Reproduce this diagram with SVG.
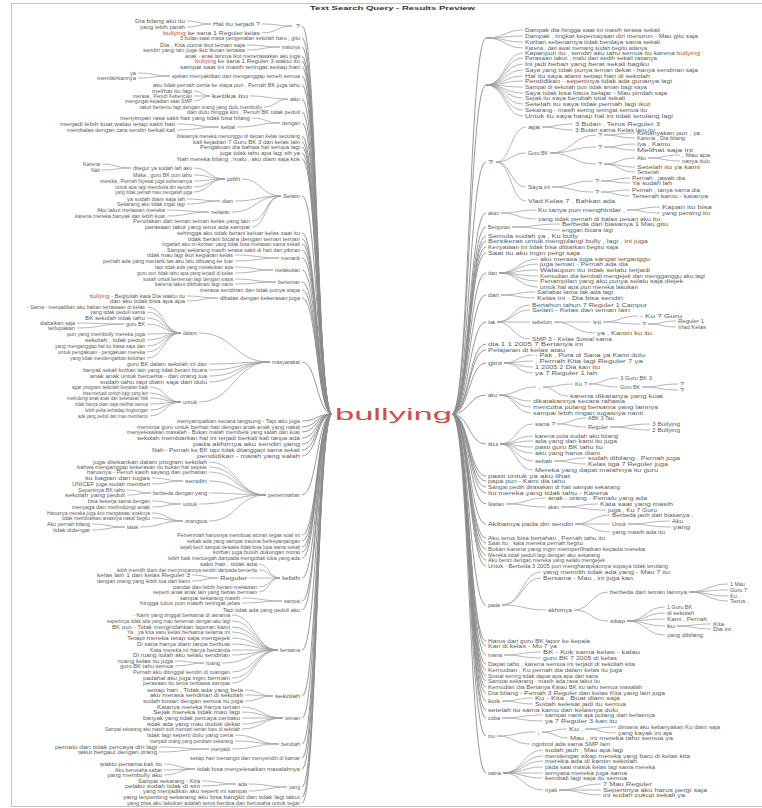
<svg xmlns="http://www.w3.org/2000/svg" width="762" height="808" viewBox="0 0 762 808">
<style>
text{font-family:"Liberation Sans",Arial,sans-serif;font-size:5.5px;fill:#5c5c5c}
.L text{text-anchor:end}
.r{fill:#e0403c}
#connectors path{fill:none;stroke:#9c9c9c;stroke-width:.75}
#connectors path.trunk{stroke:#8c8c8c;stroke-width:.9}
</style>
<rect x="11.5" y="3.5" width="760" height="803" fill="#fff" stroke="#c4c4c4"/>
<g id="title"><text x="310" y="10" textLength="165" lengthAdjust="spacingAndGlyphs" style="font-size:6px;font-weight:bold;fill:#333">Text Search Query - Results Preview</text></g>
<g id="connectors">
<path class="trunk" d="M302 26C317 26 317 414 332 414M302 38C317 38 317 414 332 414M302 47C317 47 317 414 332 414M302 56C317 56 317 414 332 414M302 61C317 61 317 414 332 414M302 67C317 67 317 414 332 414M302 76C317 76 317 414 332 414M302 85C317 85 317 414 332 414M302 99C317 99 317 414 332 414M302 112C317 112 317 414 332 414M302 123C317 123 317 414 332 414M302 136C317 136 317 414 332 414M302 142C317 142 317 414 332 414M302 147C317 147 317 414 332 414M302 153C317 153 317 414 332 414M302 159C317 159 317 414 332 414M302 196C317 196 317 414 332 414M302 233C317 233 317 414 332 414M302 239C317 239 317 414 332 414M302 244C317 244 317 414 332 414M302 250C317 250 317 414 332 414M302 258C317 258 317 414 332 414M302 270C317 270 317 414 332 414M302 282C317 282 317 414 332 414M302 290C317 290 317 414 332 414M302 298C317 298 317 414 332 414M302 362C317 362 317 414 332 414M302 421C317 421 317 414 332 414M302 427C317 427 317 414 332 414M302 432C317 432 317 414 332 414M302 438C317 438 317 414 332 414M302 444C317 444 317 414 332 414M302 450C317 450 317 414 332 414M302 456C317 456 317 414 332 414M302 495C317 495 317 414 332 414M302 535C317 535 317 414 332 414M302 541C317 541 317 414 332 414M302 547C317 547 317 414 332 414M302 552C317 552 317 414 332 414M302 558C317 558 317 414 332 414M302 578C317 578 317 414 332 414M302 601C317 601 317 414 332 414M302 610C317 610 317 414 332 414M302 650C317 650 317 414 332 414M302 696C317 696 317 414 332 414M302 718C317 718 317 414 332 414M302 744C317 744 317 414 332 414M302 758C317 758 317 414 332 414M302 769C317 769 317 414 332 414M302 787C317 787 317 414 332 414M302 797C317 797 317 414 332 414M302 803C317 803 317 414 332 414"/>
<path d="M187 21C199 21 199 24 211 24M187 27C199 27 199 24 211 24M262 24C277 24 277 26 292 26M262 33C277 33 277 26 292 26M247 45C263 45 263 47 280 47M247 50C263 50 263 47 280 47M138 73C154 73 154 76 170 76M138 78C154 78 154 76 170 76M194 91C202 91 202 96 210 96M194 96H210M194 101C202 101 202 96 210 96M250 96C269 96 269 99 288 99M264 107C276 107 276 99 288 99M252 118C266 118 266 123 280 123M237 127C258 127 258 123 280 123M177 124C198 124 198 127 219 127M177 130C198 130 198 127 219 127"/>
<path d="M102 164C116 164 116 168 131 168M102 170C116 170 116 168 131 168M194 168C209 168 209 179 225 179M194 175C209 175 209 179 225 179M194 181C209 181 209 179 225 179M194 187C209 187 209 179 225 179M194 192C209 192 209 179 225 179M242 179C261 179 261 196 281 196M187 199C203 199 203 201 220 201M187 204C203 204 203 201 220 201M235 201C258 201 258 196 281 196M167 210C188 210 188 212 209 212M167 216C188 216 188 212 209 212M232 212C256 212 256 196 281 196M252 221C266 221 266 196 281 196M252 227C266 227 266 196 281 196M235 255C257 255 257 258 279 258M235 261C257 261 257 258 279 258M235 267C254 267 254 270 273 270M235 273C254 273 254 270 273 270M235 279C255 279 255 282 276 282M235 284C255 284 255 282 276 282M187 296C202 296 202 298 218 298M187 301C202 301 202 298 218 298"/>
<path d="M147 307C164 307 164 333 181 333M147 312C164 312 164 333 181 333M147 318C164 318 164 333 181 333M147 324C164 324 164 333 181 333M147 334C164 334 164 333 181 333M147 340C164 340 164 333 181 333M147 346C164 346 164 333 181 333M147 352C164 352 164 333 181 333M147 358C164 358 164 333 181 333M77 323C100 323 100 324 124 324M77 328C100 328 100 324 124 324M199 333C234 333 234 362 270 362M209 364C239 364 239 362 270 362M209 370C239 370 239 362 270 362M209 376C239 376 239 362 270 362M209 382C239 382 239 362 270 362M150 387C165 387 165 402 181 402M150 393C165 393 165 402 181 402M150 398C165 398 165 402 181 402M150 404C165 404 165 402 181 402M150 410C165 410 165 402 181 402M150 416C165 416 165 402 181 402M199 402C234 402 234 362 270 362"/>
<path d="M209 462C237 462 237 495 266 495M209 467C237 467 237 495 266 495M209 472C237 472 237 495 266 495M152 478C167 478 167 481 183 481M152 484C167 484 167 481 183 481M209 481C237 481 237 495 266 495M127 490C139 490 139 493 151 493M127 495C139 495 139 493 151 493M209 493C237 493 237 495 266 495M152 501C166 501 166 504 181 504M152 507C166 507 166 504 181 504M199 504C232 504 232 495 266 495M152 513C167 513 167 521 183 521M152 518C167 518 167 521 183 521M92 524C108 524 108 527 125 527M92 530C108 530 108 527 125 527M140 527C161 527 161 521 183 521M209 521C237 521 237 495 266 495M259 564C269 564 269 578 280 578M259 570C269 570 269 578 280 578M192 575C205 575 205 578 218 578M192 581C205 581 205 578 218 578M249 578H280M259 587C269 587 269 578 280 578M259 592C269 592 269 578 280 578M242 598C262 598 262 601 282 601M242 603C262 603 262 601 282 601"/>
<path d="M232 615C255 615 255 650 278 650M232 621C255 621 255 650 278 650M232 627C255 627 255 650 278 650M232 632C255 632 255 650 278 650M232 638C255 638 255 650 278 650M232 644C255 644 255 650 278 650M232 650H278M232 655C255 655 255 650 278 650M232 672C255 672 255 650 278 650M232 678C255 678 255 650 278 650M232 683C255 683 255 650 278 650M175 661C190 661 190 663 204 663M175 666C190 666 190 663 204 663M222 663C250 663 250 650 278 650M245 690C259 690 259 696 273 696M245 695C259 695 259 696 273 696M245 701C259 701 259 696 273 696M242 707C262 707 262 718 283 718M242 712C262 712 262 718 283 718M242 718H283M242 724C262 724 262 718 283 718M242 729C262 729 262 718 283 718M235 735C257 735 257 744 279 744M235 741C257 741 257 744 279 744M159 747C184 747 184 749 209 749M159 752C184 752 184 749 209 749M232 749C255 749 255 744 279 744M164 764C179 764 179 769 195 769M164 770C179 770 179 769 195 769M164 775C179 775 179 769 195 769M202 781C219 781 219 784 236 784M202 786C219 786 219 784 236 784M249 784C268 784 268 787 287 787M249 791C268 791 268 787 287 787"/>
<path class="trunk" d="M452 414C469 414 469 38 486 38M452 414C469 414 469 85 486 85M452 414C469 414 469 162 486 162M452 414C469 414 469 213 486 213M452 414C469 414 469 227 486 227M452 414C469 414 469 236 486 236M452 414C469 414 469 241 486 241M452 414C469 414 469 247 486 247M452 414C469 414 469 253 486 253M452 414C469 414 469 273 486 273M452 414C469 414 469 295 486 295M452 414C469 414 469 322 486 322M452 414C469 414 469 344 486 344M452 414C469 414 469 350 486 350M452 414C469 414 469 363 486 363M452 414C469 414 469 395 486 395M452 414C469 414 469 444 486 444M452 414C469 414 469 476 486 476M452 414C469 414 469 481 486 481M452 414C469 414 469 487 486 487M452 414C469 414 469 493 486 493M452 414C469 414 469 504 486 504M452 414C469 414 469 524 486 524M452 414C469 414 469 538 486 538M452 414C469 414 469 543 486 543M452 414C469 414 469 549 486 549M452 414C469 414 469 555 486 555M452 414C469 414 469 560 486 560M452 414C469 414 469 566 486 566M452 414C469 414 469 605 486 605M452 414C469 414 469 641 486 641M452 414C469 414 469 646 486 646M452 414C469 414 469 655 486 655M452 414C469 414 469 664 486 664M452 414C469 414 469 670 486 670M452 414C469 414 469 676 486 676M452 414C469 414 469 681 486 681M452 414C469 414 469 687 486 687M452 414C469 414 469 693 486 693M452 414C469 414 469 701 486 701M452 414C469 414 469 710 486 710M452 414C469 414 469 718 486 718M452 414C469 414 469 736 486 736M452 414C469 414 469 773 486 773"/>
<path d="M486 38C505 38 505 30 523 30M486 38C505 38 505 36 523 36M486 38C505 38 505 42 523 42M486 38C505 38 505 48 523 48M486 85C505 85 505 53 523 53M486 85C505 85 505 58 523 58M486 85C505 85 505 64 523 64M486 85C505 85 505 70 523 70M486 85C505 85 505 76 523 76M486 85C505 85 505 81 523 81M486 85C505 85 505 87 523 87M486 85C505 85 505 93 523 93M486 85C505 85 505 98 523 98M486 85C505 85 505 104 523 104M486 85C505 85 505 110 523 110M486 85C505 85 505 116 523 116"/>
<path d="M496 162C511 162 511 127 526 127M496 162C511 162 511 153 526 153M496 162C511 162 511 187 526 187M496 162C511 162 511 201 526 201M542 127C557 127 557 124 573 124M542 127C557 127 557 130 573 130M550 153C573 153 573 135 596 135M550 153C573 153 573 147 596 147M550 153C573 153 573 164 596 164M604 135C619 135 619 133 635 133M604 135C619 135 619 138 635 138M604 147C619 147 619 144 635 144M604 147C619 147 619 150 635 150M604 164C619 164 619 158 635 158M604 164C619 164 619 167 635 167M604 164C619 164 619 172 635 172M648 158C664 158 664 155 680 155M648 158C664 158 664 161 680 161M552 187C572 187 572 181 593 181M552 187C572 187 572 192 593 192M601 181C615 181 615 178 630 178M601 181C615 181 615 183 630 183M601 192C615 192 615 190 630 190M601 192C615 192 615 196 630 196M501 213C518 213 518 210 536 210M501 213C518 213 518 219 536 219M627 210C643 210 643 207 660 207M627 210C643 210 643 213 660 213M512 227C536 227 536 224 560 224M512 227C536 227 536 230 560 230"/>
<path d="M499 273C518 273 518 259 538 259M499 273C518 273 518 264 538 264M499 273C518 273 518 270 538 270M499 273C518 273 518 276 538 276M499 273C518 273 518 281 538 281M499 273C518 273 518 287 538 287M501 295C518 295 518 292 535 292M501 295C518 295 518 298 535 298M497 322C513 322 513 305 530 305M497 322C513 322 513 310 530 310M497 322H530M497 322C513 322 513 339 530 339M554 322H591M554 322C574 322 574 333 595 333M603 322C620 322 620 316 638 316M603 322C621 322 621 324 640 324M648 324C662 324 662 321 676 321M648 324C662 324 662 327 676 327M504 363C518 363 518 355 533 355M504 363C518 363 518 361 533 361M504 363C518 363 518 367 533 367M504 363C518 363 518 373 533 373M499 395C517 395 517 387 536 387M499 395C515 395 515 401 531 401M499 395C515 395 515 407 531 407M499 395C515 395 515 413 531 413M543 387C558 387 558 384 573 384M543 387C555 387 555 396 568 396M589 384C603 384 603 378 618 378M589 384C603 384 603 387 618 387M642 387C660 387 660 384 678 384M642 387C660 387 660 390 678 390"/>
<path d="M500 444C516 444 516 424 533 424M500 444C516 444 516 436 533 436M500 444C516 444 516 441 533 441M500 444C516 444 516 447 533 447M500 444C516 444 516 453 533 453M500 444C516 444 516 461 533 461M500 444C516 444 516 470 533 470M557 424C571 424 571 418 586 418M557 424C571 424 571 427 586 427M610 427C630 427 630 424 650 424M610 427C630 427 630 430 650 430M554 461C570 461 570 458 586 458M554 461C570 461 570 464 586 464M506 504C526 504 526 498 546 498M506 504C526 504 526 507 546 507M561 507C580 507 580 504 598 504M561 507C584 507 584 510 606 510M575 524C592 524 592 515 610 515M575 524H610M575 524C592 524 592 532 610 532M628 524C649 524 649 521 670 521M628 524C649 524 649 527 671 527"/>
<path d="M502 605C522 605 522 572 541 572M502 605C522 605 522 578 541 578M502 605C524 605 524 610 546 610M574 610C591 610 591 592 608 592M574 610C591 610 591 621 608 621M689 592C708 592 708 584 728 584M689 592C708 592 708 590 728 590M689 592C708 592 708 596 728 596M689 592C708 592 708 601 728 601M627 621C646 621 646 607 665 607M627 621C646 621 646 613 665 613M627 621C646 621 646 619 665 619M627 621C646 621 646 626 665 626M627 621C646 621 646 635 665 635M677 626C694 626 694 624 711 624M677 626C694 626 694 629 711 629M504 655C522 655 522 652 541 652M504 655C522 655 522 658 541 658M502 701C518 701 518 698 533 698M502 701C518 701 518 704 533 704M502 718C522 718 522 715 543 715M502 718C522 718 522 721 543 721M497 736C516 736 516 732 535 732M497 736C514 736 514 744 530 744M542 732C554 732 554 729 567 729M542 732C555 732 555 738 568 738M585 729C600 729 600 727 616 727M585 729C600 729 600 733 616 733M503 773C523 773 523 750 543 750M503 773C523 773 523 756 543 756M503 773C523 773 523 761 543 761M503 773C523 773 523 767 543 767M503 773H543M503 773C523 773 523 778 543 778M503 773C523 773 523 790 543 790M559 790C580 790 580 784 601 784M559 790H601M559 790C580 790 580 795 601 795"/>
</g>
<g id="root"><text x="335" y="420" textLength="117" lengthAdjust="spacingAndGlyphs" style="font-size:16px;fill:#d9484a">bullying</text></g>
<g class="L" id="left">
<g id="L01"><text x="300" y="28" textLength="4" lengthAdjust="spacingAndGlyphs">?</text><text x="260" y="26" textLength="47" lengthAdjust="spacingAndGlyphs">Hal itu terjadi ?</text><text x="185" y="23" textLength="50" lengthAdjust="spacingAndGlyphs">Dia bilang aku itu</text><text x="185" y="29" textLength="45" lengthAdjust="spacingAndGlyphs">yang lebih parah</text><text x="260" y="35" textLength="97" lengthAdjust="spacingAndGlyphs"><tspan class="r">bullying</tspan> ke sana 1 Reguler kelas</text></g>
<g id="L02"><text x="300" y="40" textLength="120" lengthAdjust="spacingAndGlyphs">3 bulan saat masa pengenalan sekolah baru , gitu</text></g>
<g id="L03"><text x="300" y="49" textLength="18" lengthAdjust="spacingAndGlyphs">malunya</text><text x="245" y="47" textLength="85" lengthAdjust="spacingAndGlyphs">Dia , Kita cuma ikut teman saja</text><text x="245" y="52" textLength="102" lengthAdjust="spacingAndGlyphs">sendiri yang lain juga ikut ikutan tertawa</text></g>
<g id="L04"><text x="300" y="58" textLength="115" lengthAdjust="spacingAndGlyphs">anak - anak lainnya ikut menertawakan aku juga</text></g>
<g id="L05"><text x="300" y="63" textLength="105" lengthAdjust="spacingAndGlyphs"><tspan class="r">bullying</tspan> ke sana 1 Reguler 3 waktu itu</text></g>
<g id="L06"><text x="300" y="69" textLength="120" lengthAdjust="spacingAndGlyphs">sampai saat ini masih teringat setiap hari</text></g>
<g id="L07"><text x="300" y="78" textLength="128" lengthAdjust="spacingAndGlyphs">ejekan menyakitkan dan menganggap remeh semua</text><text x="136" y="75" textLength="6" lengthAdjust="spacingAndGlyphs">ya</text><text x="136" y="80" textLength="39" lengthAdjust="spacingAndGlyphs">memikirkannya</text></g>
<g id="L08"><text x="300" y="87" textLength="147" lengthAdjust="spacingAndGlyphs">aku tidak pernah cerita ke siapa pun , Pernah BK juga tahu</text></g>
<g id="L09"><text x="300" y="101" textLength="10" lengthAdjust="spacingAndGlyphs">aku</text><text x="248" y="98" textLength="36" lengthAdjust="spacingAndGlyphs">ketika itu</text><text x="192" y="93" textLength="40" lengthAdjust="spacingAndGlyphs">melihat itu lagi</text><text x="192" y="98" textLength="59" lengthAdjust="spacingAndGlyphs">merasa , Penuh Kebencian</text><text x="192" y="103" textLength="67" lengthAdjust="spacingAndGlyphs">mengingat kejadian saat SMP</text><text x="262" y="109" textLength="122" lengthAdjust="spacingAndGlyphs">takut bertemu lagi dengan orang yang dulu membully</text></g>
<g id="L10"><text x="300" y="114" textLength="113" lengthAdjust="spacingAndGlyphs">dari dulu hingga kini , Penuh BK tidak peduli</text></g>
<g id="L11"><text x="300" y="125" textLength="18" lengthAdjust="spacingAndGlyphs">dengan</text><text x="250" y="120" textLength="130" lengthAdjust="spacingAndGlyphs">menyimpan rasa sakit hati yang tidak bisa hilang</text><text x="235" y="129" textLength="14" lengthAdjust="spacingAndGlyphs">kebal</text><text x="175" y="126" textLength="115" lengthAdjust="spacingAndGlyphs">menjadi lebih kuat walau tetap sakit hati</text><text x="175" y="132" textLength="108" lengthAdjust="spacingAndGlyphs">membalas dengan cara sendiri berkali kali</text></g>
<g id="L12"><text x="300" y="138" textLength="123" lengthAdjust="spacingAndGlyphs">biasanya mereka menunggu di depan kelas sepulang</text><text x="300" y="144" textLength="107" lengthAdjust="spacingAndGlyphs">kali kejadian 7 Guru BK 3 dan kelas lain</text><text x="300" y="149" textLength="100" lengthAdjust="spacingAndGlyphs">Pengakuan dia bahwa hal serupa lagi</text><text x="300" y="155" textLength="80" lengthAdjust="spacingAndGlyphs">juga tidak tahu apa lagi sih ya</text><text x="300" y="161" textLength="123" lengthAdjust="spacingAndGlyphs">Nah mereka bilang , malu , aku diam saja kok</text></g>
<g id="L17"><text x="300" y="198" textLength="17" lengthAdjust="spacingAndGlyphs">Selain</text><text x="240" y="181" textLength="13" lengthAdjust="spacingAndGlyphs">pilih</text><text x="192" y="170" textLength="59" lengthAdjust="spacingAndGlyphs">ditegur ya sudah lah aku</text><text x="100" y="166" textLength="17" lengthAdjust="spacingAndGlyphs">Karena</text><text x="100" y="172" textLength="9" lengthAdjust="spacingAndGlyphs">Nah</text><text x="192" y="177" textLength="59" lengthAdjust="spacingAndGlyphs">Maka , guru BK pun tahu</text><text x="192" y="183" textLength="92" lengthAdjust="spacingAndGlyphs">mereka , Pernah Nyesal juga sebenarnya</text><text x="192" y="189" textLength="77" lengthAdjust="spacingAndGlyphs">untuk apa lagi membela diri sendiri</text><text x="192" y="194" textLength="77" lengthAdjust="spacingAndGlyphs">yang tidak pernah mau mengalah juga</text><text x="233" y="203" textLength="11" lengthAdjust="spacingAndGlyphs">diam</text><text x="185" y="201" textLength="58" lengthAdjust="spacingAndGlyphs">ya sudah diam saja lah</text><text x="185" y="206" textLength="68" lengthAdjust="spacingAndGlyphs">Sekarang aku tidak ingat lagi</text><text x="230" y="214" textLength="19" lengthAdjust="spacingAndGlyphs">melawan</text><text x="165" y="212" textLength="68" lengthAdjust="spacingAndGlyphs">Aku takut melawan mereka</text><text x="165" y="218" textLength="90" lengthAdjust="spacingAndGlyphs">karena mereka banyak dan lebih kuat</text><text x="250" y="223" textLength="117" lengthAdjust="spacingAndGlyphs">Penolakan dari teman teman kelas yang lain</text><text x="250" y="229" textLength="105" lengthAdjust="spacingAndGlyphs">perasaan takut yang terus ada sampai</text></g>
<g id="L18"><text x="300" y="235" textLength="123" lengthAdjust="spacingAndGlyphs">sehingga aku tidak berani keluar kelas saat itu</text><text x="300" y="241" textLength="112" lengthAdjust="spacingAndGlyphs">tidak berani bicara dengan teman teman</text><text x="300" y="246" textLength="138" lengthAdjust="spacingAndGlyphs">Ingatlah aku ini korban yang tidak bisa melawan sama sekali</text><text x="300" y="252" textLength="133" lengthAdjust="spacingAndGlyphs">Sampai sekarang masih terasa sakit di hati dan pikiran</text></g>
<g id="L22"><text x="300" y="260" textLength="19" lengthAdjust="spacingAndGlyphs">menarik</text><text x="233" y="257" textLength="86" lengthAdjust="spacingAndGlyphs">tidak mau lagi ikut kegiatan kelas</text><text x="233" y="263" textLength="130" lengthAdjust="spacingAndGlyphs">pernah ada yang menarik tas aku lalu dibuang ke luar</text></g>
<g id="L23"><text x="300" y="272" textLength="25" lengthAdjust="spacingAndGlyphs">melakukan</text><text x="233" y="269" textLength="78" lengthAdjust="spacingAndGlyphs">tapi tidak ada yang melakukan apa</text><text x="233" y="275" textLength="96" lengthAdjust="spacingAndGlyphs">guru pun tidak tahu apa yang terjadi di kelas</text></g>
<g id="L24"><text x="300" y="284" textLength="22" lengthAdjust="spacingAndGlyphs">berteman</text><text x="233" y="281" textLength="90" lengthAdjust="spacingAndGlyphs">susah untuk berteman lagi dengan siapa</text><text x="233" y="286" textLength="78" lengthAdjust="spacingAndGlyphs">karena takut dikhianati lagi nanti</text><text x="300" y="292" textLength="100" lengthAdjust="spacingAndGlyphs">merasa sendirian dan tidak punya siapa</text></g>
<g id="L26"><text x="300" y="300" textLength="80" lengthAdjust="spacingAndGlyphs">dibalas dengan kekerasan juga</text><text x="185" y="298" textLength="95" lengthAdjust="spacingAndGlyphs"><tspan class="r">bullying</tspan> - Begitulah kata Dia waktu itu</text><text x="185" y="303" textLength="75" lengthAdjust="spacingAndGlyphs">dan aku tidak bisa apa apa</text></g>
<g id="L27"><text x="300" y="364" textLength="28" lengthAdjust="spacingAndGlyphs">masyarakat</text><text x="197" y="335" textLength="14" lengthAdjust="spacingAndGlyphs">dalam</text><text x="145" y="309" textLength="118" lengthAdjust="spacingAndGlyphs">- Sama - menjadikan aku bahan tertawaan di kelas</text><text x="145" y="314" textLength="55" lengthAdjust="spacingAndGlyphs">yang tidak peduli sama</text><text x="145" y="320" textLength="60" lengthAdjust="spacingAndGlyphs">BK sekolah tidak tahu</text><text x="145" y="326" textLength="19" lengthAdjust="spacingAndGlyphs">guru BK</text><text x="75" y="325" textLength="35" lengthAdjust="spacingAndGlyphs">diabaikan saja</text><text x="75" y="330" textLength="27" lengthAdjust="spacingAndGlyphs">terlupakan</text><text x="145" y="336" textLength="78" lengthAdjust="spacingAndGlyphs">pun yang membully mereka juga</text><text x="145" y="342" textLength="60" lengthAdjust="spacingAndGlyphs">sekolah , tidak peduli</text><text x="145" y="348" textLength="90" lengthAdjust="spacingAndGlyphs">yang menganggap hal itu biasa saja dan</text><text x="145" y="354" textLength="87" lengthAdjust="spacingAndGlyphs">untuk pengakuan - pengakuan mereka</text><text x="145" y="360" textLength="75" lengthAdjust="spacingAndGlyphs">yang tidak mendengarkan keluhan</text><text x="207" y="366" textLength="80" lengthAdjust="spacingAndGlyphs">guru BK dalam sekolah ini dan</text><text x="207" y="372" textLength="124" lengthAdjust="spacingAndGlyphs">banyak sekali korban lain yang tidak berani bicara</text><text x="207" y="378" textLength="117" lengthAdjust="spacingAndGlyphs">anak anak untuk bercerita - dan orang tua</text><text x="207" y="384" textLength="107" lengthAdjust="spacingAndGlyphs">sudah tahu tapi diam saja dari dulu</text><text x="197" y="404" textLength="14" lengthAdjust="spacingAndGlyphs">untuk</text><text x="148" y="389" textLength="76" lengthAdjust="spacingAndGlyphs">agar program sekolah berjalan baik</text><text x="148" y="395" textLength="65" lengthAdjust="spacingAndGlyphs">bisa menjadi contoh bagi yang lain</text><text x="148" y="400" textLength="81" lengthAdjust="spacingAndGlyphs">melindungi anak anak dari kekerasan fisik</text><text x="148" y="406" textLength="73" lengthAdjust="spacingAndGlyphs">tidak hanya diam saja melihat semua</text><text x="148" y="412" textLength="63" lengthAdjust="spacingAndGlyphs">lebih peka terhadap lingkungan</text><text x="148" y="418" textLength="70" lengthAdjust="spacingAndGlyphs">ada yang peduli dan mau membantu</text></g>
<g id="L28"><text x="300" y="423" textLength="123" lengthAdjust="spacingAndGlyphs">menyampaikan secara langsung - Tapi aku juga</text><text x="300" y="429" textLength="163" lengthAdjust="spacingAndGlyphs">meminta guru untuk berhati hati dengan anak anak yang nakal</text><text x="300" y="434" textLength="173" lengthAdjust="spacingAndGlyphs">menyelesaikan masalah - Bukan malah membela yang salah dan kuat</text><text x="300" y="440" textLength="163" lengthAdjust="spacingAndGlyphs">sekolah membiarkan hal ini terjadi berkali kali tanpa ada</text><text x="300" y="446" textLength="107" lengthAdjust="spacingAndGlyphs">pada akhirnya aku sendiri yang</text><text x="300" y="452" textLength="148" lengthAdjust="spacingAndGlyphs">Nah - Pernah ke BK tapi tidak ditanggapi sama sekali</text><text x="300" y="458" textLength="103" lengthAdjust="spacingAndGlyphs">pendidikan - malah yang salah</text></g>
<g id="L35"><text x="300" y="497" textLength="32" lengthAdjust="spacingAndGlyphs">pemerintahan</text><text x="207" y="464" textLength="114" lengthAdjust="spacingAndGlyphs">juga ditekankan dalam program sekolah</text><text x="207" y="469" textLength="130" lengthAdjust="spacingAndGlyphs">bahwa menganggap kekerasan itu bukan hal sepele</text><text x="207" y="474" textLength="120" lengthAdjust="spacingAndGlyphs">harusnya - Penuh kasih sayang dan perhatian</text><text x="207" y="483" textLength="22" lengthAdjust="spacingAndGlyphs">sendiri</text><text x="150" y="480" textLength="65" lengthAdjust="spacingAndGlyphs">itu bagian dari tugas</text><text x="150" y="486" textLength="78" lengthAdjust="spacingAndGlyphs">UNICEF juga sudah memberi</text><text x="207" y="495" textLength="54" lengthAdjust="spacingAndGlyphs">berbeda dengan yang</text><text x="125" y="492" textLength="47" lengthAdjust="spacingAndGlyphs">Sepertinya BK tahu</text><text x="125" y="497" textLength="60" lengthAdjust="spacingAndGlyphs">sekolah yang peduli</text><text x="197" y="506" textLength="14" lengthAdjust="spacingAndGlyphs">untuk</text><text x="150" y="503" textLength="62" lengthAdjust="spacingAndGlyphs">bisa bekerja sama dengan</text><text x="150" y="509" textLength="78" lengthAdjust="spacingAndGlyphs">menjaga dan melindungi anak</text><text x="207" y="523" textLength="22" lengthAdjust="spacingAndGlyphs">orangtua</text><text x="150" y="515" textLength="103" lengthAdjust="spacingAndGlyphs">Harusnya mereka juga ikut mengawasi anaknya</text><text x="150" y="520" textLength="88" lengthAdjust="spacingAndGlyphs">tidak membiarkan anaknya nakal begitu</text><text x="138" y="529" textLength="11" lengthAdjust="spacingAndGlyphs">kakak</text><text x="90" y="526" textLength="43" lengthAdjust="spacingAndGlyphs">Aku pernah bilang</text><text x="90" y="532" textLength="37" lengthAdjust="spacingAndGlyphs">tidak didengar</text></g>
<g id="L36"><text x="300" y="537" textLength="123" lengthAdjust="spacingAndGlyphs">Pemerintah harusnya membuat aturan tegas soal ini</text><text x="300" y="543" textLength="113" lengthAdjust="spacingAndGlyphs">sebab ada yang sampai trauma berkepanjangan</text><text x="300" y="549" textLength="120" lengthAdjust="spacingAndGlyphs">sejak kecil sampai dewasa tidak bisa lupa sama sekali</text><text x="300" y="554" textLength="87" lengthAdjust="spacingAndGlyphs">korban juga butuh dukungan moral</text><text x="300" y="560" textLength="132" lengthAdjust="spacingAndGlyphs">lebih baik mencegah daripada mengobati luka yang ada</text></g>
<g id="L41"><text x="300" y="580" textLength="18" lengthAdjust="spacingAndGlyphs">lebih</text><text x="257" y="566" textLength="57" lengthAdjust="spacingAndGlyphs">sakit hati , tidak ada</text><text x="257" y="572" textLength="140" lengthAdjust="spacingAndGlyphs">lebih memilih diam dan menyimpannya sendiri daripada bercerita</text><text x="247" y="580" textLength="27" lengthAdjust="spacingAndGlyphs">Reguler</text><text x="190" y="577" textLength="93" lengthAdjust="spacingAndGlyphs">kelas lain 1 dan kelas Reguler 3</text><text x="190" y="583" textLength="93" lengthAdjust="spacingAndGlyphs">dengan orang yang lebih tua dari kami</text><text x="257" y="589" textLength="84" lengthAdjust="spacingAndGlyphs">pandai dan lebih berani melawan</text><text x="257" y="594" textLength="104" lengthAdjust="spacingAndGlyphs">seperti anak anak lain yang bebas bermain</text></g>
<g id="L42"><text x="300" y="603" textLength="16" lengthAdjust="spacingAndGlyphs">sampai</text><text x="240" y="600" textLength="60" lengthAdjust="spacingAndGlyphs">sampai sekarang masih</text><text x="240" y="605" textLength="100" lengthAdjust="spacingAndGlyphs">hingga lulus pun masih teringat jelas</text><text x="300" y="612" textLength="77" lengthAdjust="spacingAndGlyphs">Tapi tidak ada yang peduli aku</text></g>
<g id="L44"><text x="300" y="652" textLength="20" lengthAdjust="spacingAndGlyphs">bersama</text><text x="230" y="617" textLength="97" lengthAdjust="spacingAndGlyphs">- Kami yang tinggal bersama di asrama</text><text x="230" y="623" textLength="123" lengthAdjust="spacingAndGlyphs">sepertinya tidak ada yang mau berteman dengan aku lagi</text><text x="230" y="629" textLength="118" lengthAdjust="spacingAndGlyphs">BK pun - Tidak mengindahkan laporan kami</text><text x="230" y="634" textLength="103" lengthAdjust="spacingAndGlyphs">Ya , ya kita satu kelas bersama selama ini</text><text x="230" y="640" textLength="103" lengthAdjust="spacingAndGlyphs">Tetapi mereka tetap saja mengejek</text><text x="230" y="646" textLength="93" lengthAdjust="spacingAndGlyphs">Di sana hanya diam tanpa berbuat</text><text x="230" y="652" textLength="80" lengthAdjust="spacingAndGlyphs">Kata mereka ini hanya bercanda</text><text x="230" y="657" textLength="97" lengthAdjust="spacingAndGlyphs">Di ruang itulah aku selalu sendirian</text><text x="220" y="665" textLength="14" lengthAdjust="spacingAndGlyphs">ruang</text><text x="173" y="663" textLength="55" lengthAdjust="spacingAndGlyphs">ruang kelas itu juga</text><text x="173" y="668" textLength="53" lengthAdjust="spacingAndGlyphs">guru BK tahu semua</text><text x="230" y="674" textLength="97" lengthAdjust="spacingAndGlyphs">Pernah aku ditinggal sendiri di ruangan</text><text x="230" y="680" textLength="87" lengthAdjust="spacingAndGlyphs">padahal aku juga ingin bermain</text><text x="230" y="685" textLength="87" lengthAdjust="spacingAndGlyphs">perasaan itu terus terbawa sampai</text></g>
<g id="L45"><text x="300" y="698" textLength="25" lengthAdjust="spacingAndGlyphs">sekolah</text><text x="243" y="692" textLength="96" lengthAdjust="spacingAndGlyphs">setiap hari , Tidak ada yang bela</text><text x="243" y="697" textLength="93" lengthAdjust="spacingAndGlyphs">aku merasa sendirian di sekolah</text><text x="243" y="703" textLength="100" lengthAdjust="spacingAndGlyphs">sudah bosan dengan semua itu juga</text></g>
<g id="L46"><text x="300" y="720" textLength="15" lengthAdjust="spacingAndGlyphs">teman</text><text x="240" y="709" textLength="83" lengthAdjust="spacingAndGlyphs">Katanya mereka hanya teman</text><text x="240" y="714" textLength="87" lengthAdjust="spacingAndGlyphs">Sejak mereka tidak mau lagi</text><text x="240" y="720" textLength="97" lengthAdjust="spacingAndGlyphs">banyak yang tidak percaya ceritaku</text><text x="240" y="726" textLength="93" lengthAdjust="spacingAndGlyphs">tidak ada yang mau duduk dekat</text><text x="240" y="731" textLength="135" lengthAdjust="spacingAndGlyphs">Sampai sekarang aku masih sulit mencari teman baru di sekolah</text></g>
<g id="L47"><text x="300" y="746" textLength="19" lengthAdjust="spacingAndGlyphs">berubah</text><text x="233" y="737" textLength="86" lengthAdjust="spacingAndGlyphs">tidak lagi seperti dulu yang ceria</text><text x="233" y="743" textLength="83" lengthAdjust="spacingAndGlyphs">menjadi orang yang pendiam sekarang</text><text x="230" y="751" textLength="19" lengthAdjust="spacingAndGlyphs">menjadi</text><text x="157" y="749" textLength="102" lengthAdjust="spacingAndGlyphs">pemalu dan tidak percaya diri lagi</text><text x="157" y="754" textLength="79" lengthAdjust="spacingAndGlyphs">takut bergaul dengan orang</text><text x="300" y="760" textLength="110" lengthAdjust="spacingAndGlyphs">setiap hari menangis dan menyendiri di kamar</text></g>
<g id="L49"><text x="300" y="771" textLength="103" lengthAdjust="spacingAndGlyphs">tidak bisa menyelesaikan masalahnya</text><text x="162" y="766" textLength="62" lengthAdjust="spacingAndGlyphs">waktu pertama kali itu</text><text x="162" y="772" textLength="47" lengthAdjust="spacingAndGlyphs">Aku berusaha sabar</text><text x="162" y="777" textLength="55" lengthAdjust="spacingAndGlyphs">yang membully aku</text></g>
<g id="L50"><text x="300" y="789" textLength="11" lengthAdjust="spacingAndGlyphs">yang</text><text x="247" y="786" textLength="9" lengthAdjust="spacingAndGlyphs">ada</text><text x="200" y="783" textLength="62" lengthAdjust="spacingAndGlyphs">Sampai sekarang - Kita</text><text x="200" y="788" textLength="75" lengthAdjust="spacingAndGlyphs">pelaku sudah tidak di sini</text><text x="247" y="793" textLength="104" lengthAdjust="spacingAndGlyphs">yang menjadikan aku seperti ini sampai</text><text x="300" y="799" textLength="177" lengthAdjust="spacingAndGlyphs">yang terpenting sekarang aku bisa bangkit dan tidak lagi takut</text><text x="300" y="805" textLength="173" lengthAdjust="spacingAndGlyphs">yang bisa aku lakukan adalah terus berdoa dan berusaha untuk tegar</text></g>
</g>
<g id="right">
<g id="R01"><text x="525" y="32" textLength="135" lengthAdjust="spacingAndGlyphs">Dampak dia hingga saat ini masih terasa sekali</text><text x="525" y="38" textLength="173" lengthAdjust="spacingAndGlyphs">Dampak , tingkat kepercayaan diri menurun - Mau gitu saja</text><text x="525" y="44" textLength="135" lengthAdjust="spacingAndGlyphs">Korban sebenarnya tidak berdaya sama sekali</text><text x="525" y="50" textLength="122" lengthAdjust="spacingAndGlyphs">Karena , dari awal memang sudah begitu adanya</text></g>
<g id="R02"><text x="525" y="55" textLength="175" lengthAdjust="spacingAndGlyphs">Kapanpun itu , sendiri aku tahu semua itu karena <tspan class="r">bullying</tspan></text><text x="525" y="60" textLength="132" lengthAdjust="spacingAndGlyphs">Perasaan takut , malu dan sedih sekali rasanya</text><text x="525" y="66" textLength="124" lengthAdjust="spacingAndGlyphs">Ini jadi beban yang berat sekali bagiku</text><text x="525" y="72" textLength="173" lengthAdjust="spacingAndGlyphs">Saya yang tidak punya teman dekat - hanya sendirian saja</text><text x="525" y="78" textLength="125" lengthAdjust="spacingAndGlyphs">Hal itu saya alami setiap hari di sekolah</text><text x="525" y="83" textLength="147" lengthAdjust="spacingAndGlyphs">Pendidikan - sepertinya tidak ada gunanya lagi</text><text x="525" y="89" textLength="122" lengthAdjust="spacingAndGlyphs">Sampai di sekolah pun tidak aman bagi saya</text><text x="525" y="95" textLength="142" lengthAdjust="spacingAndGlyphs">Saya tidak bisa fokus belajar - Mau pindah saja</text><text x="525" y="100" textLength="100" lengthAdjust="spacingAndGlyphs">Sejak itu saya berubah total sekali</text><text x="525" y="106" textLength="125" lengthAdjust="spacingAndGlyphs">Setelah itu saya tidak pernah lagi ikut</text><text x="525" y="112" textLength="122" lengthAdjust="spacingAndGlyphs">Sekarang - masih sering teringat semua itu</text><text x="525" y="118" textLength="148" lengthAdjust="spacingAndGlyphs">Untuk itu saya harap hal ini tidak terulang lagi</text></g>
<g id="R03"><text x="488" y="164" textLength="5" lengthAdjust="spacingAndGlyphs">?</text><text x="528" y="129" textLength="12" lengthAdjust="spacingAndGlyphs">aja</text><text x="575" y="126" textLength="85" lengthAdjust="spacingAndGlyphs">3 Bulan , Terus Reguler 3</text><text x="575" y="132" textLength="80" lengthAdjust="spacingAndGlyphs">3 Bulan sama Kelas lain itu</text><text x="528" y="155" textLength="20" lengthAdjust="spacingAndGlyphs">Guru BK</text><text x="598" y="137" textLength="4" lengthAdjust="spacingAndGlyphs">?</text><text x="637" y="135" textLength="63" lengthAdjust="spacingAndGlyphs">Kebanyakan pun , ya</text><text x="637" y="140" textLength="48" lengthAdjust="spacingAndGlyphs">Karena , Dia bilang</text><text x="598" y="149" textLength="4" lengthAdjust="spacingAndGlyphs">?</text><text x="637" y="146" textLength="33" lengthAdjust="spacingAndGlyphs">Iya , Kamu</text><text x="637" y="152" textLength="56" lengthAdjust="spacingAndGlyphs">Melihat saja ini</text><text x="598" y="166" textLength="4" lengthAdjust="spacingAndGlyphs">?</text><text x="637" y="160" textLength="9" lengthAdjust="spacingAndGlyphs">Aku</text><text x="682" y="157" textLength="28" lengthAdjust="spacingAndGlyphs">, Mau apa</text><text x="682" y="163" textLength="28" lengthAdjust="spacingAndGlyphs">nanya dulu</text><text x="637" y="169" textLength="63" lengthAdjust="spacingAndGlyphs">Setelah itu ya kami</text><text x="637" y="174" textLength="22" lengthAdjust="spacingAndGlyphs">Terserah</text><text x="528" y="189" textLength="22" lengthAdjust="spacingAndGlyphs">Saya ini</text><text x="595" y="183" textLength="4" lengthAdjust="spacingAndGlyphs">?</text><text x="632" y="180" textLength="53" lengthAdjust="spacingAndGlyphs">Pernah , jawab dia</text><text x="632" y="185" textLength="40" lengthAdjust="spacingAndGlyphs">Ya sudah lah</text><text x="595" y="194" textLength="4" lengthAdjust="spacingAndGlyphs">?</text><text x="632" y="192" textLength="68" lengthAdjust="spacingAndGlyphs">Pernah , tanya sama dia</text><text x="632" y="198" textLength="76" lengthAdjust="spacingAndGlyphs">Terserah kamu - katanya</text><text x="528" y="203" textLength="87" lengthAdjust="spacingAndGlyphs">Vlad Kelas 7 , Bahkan ada</text></g>
<g id="R04"><text x="488" y="215" textLength="11" lengthAdjust="spacingAndGlyphs">akan</text><text x="538" y="212" textLength="87" lengthAdjust="spacingAndGlyphs">Ku tanya pun menghindar ,</text><text x="662" y="209" textLength="50" lengthAdjust="spacingAndGlyphs">Kapan itu bisa</text><text x="662" y="215" textLength="48" lengthAdjust="spacingAndGlyphs">yang penting itu</text><text x="538" y="221" textLength="122" lengthAdjust="spacingAndGlyphs">yang tidak pernah di balas pesan aku itu</text></g>
<g id="R05"><text x="488" y="229" textLength="22" lengthAdjust="spacingAndGlyphs">Bergurau</text><text x="562" y="226" textLength="106" lengthAdjust="spacingAndGlyphs">Berbeda dari biasanya 1 Mau gitu</text><text x="562" y="232" textLength="51" lengthAdjust="spacingAndGlyphs">enggan bicara lagi</text><text x="488" y="238" textLength="90" lengthAdjust="spacingAndGlyphs">Semula sudah ya , Ku bully</text><text x="488" y="243" textLength="160" lengthAdjust="spacingAndGlyphs">Bersikeras untuk mengulangi bully , lagi , ini juga</text><text x="488" y="249" textLength="130" lengthAdjust="spacingAndGlyphs">Kenyataan ini tidak bisa dibiarkan begitu saja</text><text x="488" y="255" textLength="92" lengthAdjust="spacingAndGlyphs">Saat itu aku ingin pergi saja</text></g>
<g id="R10"><text x="488" y="275" textLength="9" lengthAdjust="spacingAndGlyphs">dan</text><text x="540" y="261" textLength="110" lengthAdjust="spacingAndGlyphs">aku merasa juga sangat terganggu</text><text x="540" y="266" textLength="88" lengthAdjust="spacingAndGlyphs">juga teman - Pernah ada dia</text><text x="540" y="272" textLength="110" lengthAdjust="spacingAndGlyphs">Walaupun itu tidak selalu terjadi</text><text x="540" y="278" textLength="165" lengthAdjust="spacingAndGlyphs">Kemudian dia kembali mengejek dan mengganggu aku lagi</text><text x="540" y="283" textLength="143" lengthAdjust="spacingAndGlyphs">Penampilan yang aku punya selalu saja diejek</text><text x="540" y="289" textLength="98" lengthAdjust="spacingAndGlyphs">untuk hal apa pun mereka lakukan</text><text x="488" y="297" textLength="11" lengthAdjust="spacingAndGlyphs">dari</text><text x="537" y="294" textLength="76" lengthAdjust="spacingAndGlyphs">Sahabat lama tak ada lagi</text><text x="537" y="300" textLength="86" lengthAdjust="spacingAndGlyphs">Kelas ini - Dia bisa sendiri</text></g>
<g id="R12"><text x="488" y="324" textLength="7" lengthAdjust="spacingAndGlyphs">ia</text><text x="532" y="307" textLength="115" lengthAdjust="spacingAndGlyphs">Bertahun tahun 7 Reguler 1 Campur</text><text x="532" y="312" textLength="98" lengthAdjust="spacingAndGlyphs">Selain - Kelas dan teman lain</text><text x="532" y="324" textLength="20" lengthAdjust="spacingAndGlyphs">sebelum</text><text x="593" y="324" textLength="8" lengthAdjust="spacingAndGlyphs">ini</text><text x="640" y="318" textLength="42" lengthAdjust="spacingAndGlyphs">- Ku ? Guru</text><text x="642" y="326" textLength="4" lengthAdjust="spacingAndGlyphs">?</text><text x="678" y="323" textLength="26" lengthAdjust="spacingAndGlyphs">Reguler 1</text><text x="678" y="329" textLength="28" lengthAdjust="spacingAndGlyphs">Vlad Kelas</text><text x="597" y="335" textLength="55" lengthAdjust="spacingAndGlyphs">ya , Kantin ku itu</text><text x="532" y="341" textLength="80" lengthAdjust="spacingAndGlyphs">SMP 3 - Kelas Sosial sama</text><text x="488" y="346" textLength="95" lengthAdjust="spacingAndGlyphs">dia 1 1 2005 7 Bertanya ini</text><text x="488" y="352" textLength="77" lengthAdjust="spacingAndGlyphs">Pelajaran di kelas atau</text></g>
<g id="R15"><text x="488" y="365" textLength="14" lengthAdjust="spacingAndGlyphs">gini</text><text x="535" y="357" textLength="110" lengthAdjust="spacingAndGlyphs">- Pak , Pura di Sana ya Kami dulu</text><text x="535" y="363" textLength="108" lengthAdjust="spacingAndGlyphs">, Pernah Kita lagi Reguler 7 ya</text><text x="535" y="369" textLength="65" lengthAdjust="spacingAndGlyphs">1 2005 2 Dia kan itu</text><text x="535" y="375" textLength="62" lengthAdjust="spacingAndGlyphs">ya 7 Reguler 1 lah</text></g>
<g id="R16"><text x="488" y="397" textLength="9" lengthAdjust="spacingAndGlyphs">aku</text><text x="538" y="389" textLength="3" lengthAdjust="spacingAndGlyphs">.</text><text x="575" y="386" textLength="12" lengthAdjust="spacingAndGlyphs">Ku ?</text><text x="620" y="380" textLength="32" lengthAdjust="spacingAndGlyphs">3 Guru BK 3</text><text x="620" y="389" textLength="20" lengthAdjust="spacingAndGlyphs">Guru BK</text><text x="680" y="386" textLength="4" lengthAdjust="spacingAndGlyphs">?</text><text x="680" y="392" textLength="4" lengthAdjust="spacingAndGlyphs">?</text><text x="570" y="398" textLength="93" lengthAdjust="spacingAndGlyphs">karena dikatanya yang kuat</text><text x="533" y="403" textLength="92" lengthAdjust="spacingAndGlyphs">dikatakannya secara rahasia</text><text x="533" y="409" textLength="125" lengthAdjust="spacingAndGlyphs">mencoba pulang bersama yang lainnya</text><text x="533" y="415" textLength="110" lengthAdjust="spacingAndGlyphs">sampai lebih ringan tugasnya nanti</text></g>
<g id="R17"><text x="488" y="446" textLength="10" lengthAdjust="spacingAndGlyphs">itu</text><text x="535" y="426" textLength="20" lengthAdjust="spacingAndGlyphs">sana ?</text><text x="588" y="420" textLength="26" lengthAdjust="spacingAndGlyphs">ABK 3 Tau</text><text x="588" y="429" textLength="20" lengthAdjust="spacingAndGlyphs">Reguler</text><text x="652" y="426" textLength="28" lengthAdjust="spacingAndGlyphs">3 Bullying</text><text x="652" y="432" textLength="28" lengthAdjust="spacingAndGlyphs">2 Bullying</text><text x="535" y="438" textLength="83" lengthAdjust="spacingAndGlyphs">karena pula sudah aku bilang</text><text x="535" y="443" textLength="82" lengthAdjust="spacingAndGlyphs">ada yang dari kami itu juga</text><text x="535" y="449" textLength="68" lengthAdjust="spacingAndGlyphs">pasti guru BK tahu itu</text><text x="535" y="455" textLength="65" lengthAdjust="spacingAndGlyphs">aku yang harus diam</text><text x="535" y="463" textLength="17" lengthAdjust="spacingAndGlyphs">sebab</text><text x="588" y="460" textLength="92" lengthAdjust="spacingAndGlyphs">sudah dibilang , Pernah juga</text><text x="588" y="466" textLength="80" lengthAdjust="spacingAndGlyphs">Kelas tiga 7 Reguler juga</text><text x="535" y="472" textLength="123" lengthAdjust="spacingAndGlyphs">Mereka yang dapat marahnya itu guru</text></g>
<g id="R18"><text x="488" y="478" textLength="82" lengthAdjust="spacingAndGlyphs">pasti untuk ya aku lihat</text><text x="488" y="483" textLength="77" lengthAdjust="spacingAndGlyphs">papa pun - Kami dia tahu</text><text x="488" y="489" textLength="132" lengthAdjust="spacingAndGlyphs">Sangat pedih dirasakan di hati sampai sekarang</text><text x="488" y="495" textLength="120" lengthAdjust="spacingAndGlyphs">Itu mereka yang tidak tahu - Karena</text></g>
<g id="R19"><text x="488" y="506" textLength="16" lengthAdjust="spacingAndGlyphs">Ikatan</text><text x="548" y="500" textLength="99" lengthAdjust="spacingAndGlyphs">anak - orang - Pemalu yang ada</text><text x="548" y="509" textLength="11" lengthAdjust="spacingAndGlyphs">akan</text><text x="600" y="506" textLength="73" lengthAdjust="spacingAndGlyphs">Kata saat yang masih</text><text x="608" y="512" textLength="49" lengthAdjust="spacingAndGlyphs">juga , Ku 7 Guru</text></g>
<g id="R20"><text x="488" y="526" textLength="85" lengthAdjust="spacingAndGlyphs">Akibatnya pada diri sendiri</text><text x="612" y="517" textLength="81" lengthAdjust="spacingAndGlyphs">Berbeda jauh dari biasanya ,</text><text x="612" y="526" textLength="14" lengthAdjust="spacingAndGlyphs">Untuk</text><text x="672" y="523" textLength="11" lengthAdjust="spacingAndGlyphs">Aku</text><text x="673" y="529" textLength="17" lengthAdjust="spacingAndGlyphs">yang</text><text x="612" y="534" textLength="53" lengthAdjust="spacingAndGlyphs">yang masih ada itu</text></g>
<g id="R21"><text x="488" y="540" textLength="117" lengthAdjust="spacingAndGlyphs">Aku terus bisa bertahan , Pernah tahu itu</text><text x="488" y="545" textLength="95" lengthAdjust="spacingAndGlyphs">Saat Itu , kata mereka pernah begitu</text><text x="488" y="551" textLength="157" lengthAdjust="spacingAndGlyphs">Bukan karena yang ingin memperlihatkan kepada mereka</text><text x="488" y="557" textLength="112" lengthAdjust="spacingAndGlyphs">Mereka tidak peduli lagi dengan aku sekarang</text><text x="488" y="562" textLength="117" lengthAdjust="spacingAndGlyphs">Aku benci dengan mereka yang selalu mengejek</text><text x="488" y="568" textLength="180" lengthAdjust="spacingAndGlyphs">Untuk - Berbeda 3 2005 pun mengharapkannya supaya tidak terulang</text></g>
<g id="R27"><text x="488" y="607" textLength="12" lengthAdjust="spacingAndGlyphs">pada</text><text x="543" y="574" textLength="127" lengthAdjust="spacingAndGlyphs">yang memilih tidak ada yang - Mau 7 itu</text><text x="543" y="580" textLength="90" lengthAdjust="spacingAndGlyphs">Bersama - Mau , ini juga kan</text><text x="548" y="612" textLength="24" lengthAdjust="spacingAndGlyphs">akhirnya</text><text x="610" y="594" textLength="77" lengthAdjust="spacingAndGlyphs">berbeda dari teman lainnya</text><text x="730" y="586" textLength="15" lengthAdjust="spacingAndGlyphs">1 Mau</text><text x="730" y="592" textLength="17" lengthAdjust="spacingAndGlyphs">Guru 7</text><text x="730" y="598" textLength="10" lengthAdjust="spacingAndGlyphs">Ku ,</text><text x="730" y="603" textLength="19" lengthAdjust="spacingAndGlyphs">Terus ,</text><text x="610" y="623" textLength="15" lengthAdjust="spacingAndGlyphs">sikap</text><text x="667" y="609" textLength="25" lengthAdjust="spacingAndGlyphs">1 Guru BK</text><text x="667" y="615" textLength="27" lengthAdjust="spacingAndGlyphs">di sekolah</text><text x="667" y="621" textLength="40" lengthAdjust="spacingAndGlyphs">Kami , Pernah</text><text x="667" y="628" textLength="8" lengthAdjust="spacingAndGlyphs">ku</text><text x="713" y="626" textLength="11" lengthAdjust="spacingAndGlyphs">Kita</text><text x="713" y="631" textLength="18" lengthAdjust="spacingAndGlyphs">Dia ini</text><text x="667" y="637" textLength="36" lengthAdjust="spacingAndGlyphs">yang dibilang</text></g>
<g id="R28"><text x="488" y="643" textLength="102" lengthAdjust="spacingAndGlyphs">Harus dari guru BK lapor ke kepala</text><text x="488" y="648" textLength="69" lengthAdjust="spacingAndGlyphs">Kan di kelas - Mu 7 ya</text><text x="488" y="657" textLength="14" lengthAdjust="spacingAndGlyphs">mama</text><text x="543" y="654" textLength="97" lengthAdjust="spacingAndGlyphs">BK - Kok sama kelas - kalau</text><text x="543" y="660" textLength="74" lengthAdjust="spacingAndGlyphs">guru BK 7 2005 di kelas</text></g>
<g id="R30"><text x="488" y="666" textLength="147" lengthAdjust="spacingAndGlyphs">Dapat tahu , karena semua ini terjadi di sekolah kita</text><text x="488" y="672" textLength="134" lengthAdjust="spacingAndGlyphs">Kemudian , Ku pernah dia dalam kelas itu juga</text><text x="488" y="678" textLength="110" lengthAdjust="spacingAndGlyphs">Sosial sering tidak dapat apa apa dari sana</text><text x="488" y="683" textLength="112" lengthAdjust="spacingAndGlyphs">Sampai sekarang - masih ada rasa takut itu</text><text x="488" y="689" textLength="154" lengthAdjust="spacingAndGlyphs">Kemudian dia Bertanya Kalau BK itu tahu semua masalah</text><text x="488" y="695" textLength="177" lengthAdjust="spacingAndGlyphs">Dia bilang - Pernah 3 Reguler dan kelas Kita yang lain juga</text></g>
<g id="R31"><text x="488" y="703" textLength="12" lengthAdjust="spacingAndGlyphs">kok</text><text x="535" y="700" textLength="85" lengthAdjust="spacingAndGlyphs">Ku - Kita , Buat diam saja</text><text x="535" y="706" textLength="91" lengthAdjust="spacingAndGlyphs">Sudah selesai jadi itu semua</text><text x="488" y="712" textLength="130" lengthAdjust="spacingAndGlyphs">setelah itu sama kamu dari kelasnya dulu</text><text x="488" y="720" textLength="12" lengthAdjust="spacingAndGlyphs">coba</text><text x="545" y="717" textLength="110" lengthAdjust="spacingAndGlyphs">sampai nanti aja pulang dari kelasnya</text><text x="545" y="723" textLength="72" lengthAdjust="spacingAndGlyphs">ya 7 Reguler 3 kan itu</text></g>
<g id="R34"><text x="488" y="738" textLength="7" lengthAdjust="spacingAndGlyphs">mu</text><text x="537" y="734" textLength="3" lengthAdjust="spacingAndGlyphs">,</text><text x="569" y="731" textLength="14" lengthAdjust="spacingAndGlyphs">Ku ,</text><text x="618" y="729" textLength="102" lengthAdjust="spacingAndGlyphs">dimana aku kebanyakan Ku diam saja</text><text x="618" y="735" textLength="54" lengthAdjust="spacingAndGlyphs">yang kayak ini aja</text><text x="570" y="740" textLength="103" lengthAdjust="spacingAndGlyphs">Mau , ini mereka tahu semua ya</text><text x="532" y="746" textLength="78" lengthAdjust="spacingAndGlyphs">ngobrol ada sama SMP lain</text></g>
<g id="R35"><text x="488" y="775" textLength="13" lengthAdjust="spacingAndGlyphs">sama</text><text x="545" y="752" textLength="78" lengthAdjust="spacingAndGlyphs">sudah jauh , Mau apa lagi</text><text x="545" y="758" textLength="145" lengthAdjust="spacingAndGlyphs">mendengar sikap mereka yang baru di kelas kita</text><text x="545" y="763" textLength="92" lengthAdjust="spacingAndGlyphs">mereka ada di kantin sekolah</text><text x="545" y="769" textLength="110" lengthAdjust="spacingAndGlyphs">pada saat masuk kelas lagi sama mereka</text><text x="545" y="775" textLength="82" lengthAdjust="spacingAndGlyphs">ternyata mereka juga sama</text><text x="545" y="780" textLength="82" lengthAdjust="spacingAndGlyphs">kembali lagi saja itu semua</text><text x="545" y="792" textLength="12" lengthAdjust="spacingAndGlyphs">nyak</text><text x="603" y="786" textLength="49" lengthAdjust="spacingAndGlyphs">7 Mau Reguler</text><text x="603" y="792" textLength="104" lengthAdjust="spacingAndGlyphs">Sepertinya aku harus pergi saja</text><text x="603" y="797" textLength="82" lengthAdjust="spacingAndGlyphs">ini sudah cukup sekali ya</text></g>
</g>
</svg>
